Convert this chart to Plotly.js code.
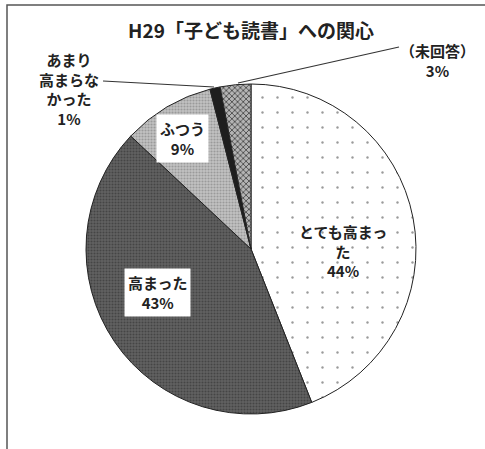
<!DOCTYPE html>
<html>
<head>
<meta charset="utf-8">
<script src="https://cdn.plot.ly/plotly-3.0.1.min.js"></script>
<style>
html,body{margin:0;padding:0;background:#fff;}
#chart{width:485px;height:449px;}
</style>
</head>
<body>
<div id="chart"></div>
<script>
// ---- data ----
const categories = ['とても高まった', '高まった', 'ふつう', 'あまり高まらなかった', '（未回答）'];
const values = [44, 43, 9, 1, 3];
const labelLines = [['とても高まっ', 'た'], ['高まった'], ['ふつう'], ['あまり', '高まらな', 'かった'], ['（未回答）']];
const chartTitle = 'H29「子ども読書」への関心';

// ---- styles (not data) ----
const W = 485, H = 449;
const px = x => x / W;
const py = y => 1 - y / H;
const sliceColors = ['#ffffff', '#5e5e5e', '#b8b8b8', '#1e1e1e', '#9a9a9a'];
const patterns = [
  {shape: '.', fgcolor: '#9a9a9a', bgcolor: '#ffffff', size: 15, solidity: 0.02},
  {shape: '.', fgcolor: '#454545', bgcolor: '#626262', size: 3, solidity: 0.4},
  {shape: '.', fgcolor: '#9a9a9a', bgcolor: '#c2c2c2', size: 3, solidity: 0.4},
  {shape: '', fgcolor: '#1e1e1e', bgcolor: '#1e1e1e', size: 4, solidity: 0.3},
  {shape: 'x', fgcolor: '#3a3a3a', bgcolor: '#b4b4b4', size: 4, solidity: 0.35}
];
// label placement (pixel centers) and whether a white box is drawn
const labelPos = [[343, 251], [157, 292], [182, 138], [69, 89], [437, 60]];
const labelBox = [false, true, true, false, false];
const leaders = [null, null, null, [[103, 81], [214, 87]], [[399, 47], [238, 83]]];

const fontFam = '"Noto Sans CJK JP", "Noto Sans", sans-serif';

const annotations = categories.map((c, i) => ({
  xref: 'paper', yref: 'paper',
  x: px(labelPos[i][0]), y: py(labelPos[i][1]),
  xanchor: 'center', yanchor: 'middle',
  text: labelLines[i].concat([values[i] + '%']).join('<br>'),
  showarrow: false,
  align: 'center',
  font: {family: fontFam, size: 15, color: '#222', weight: 'bold'},
  bgcolor: labelBox[i] ? '#ffffff' : 'rgba(0,0,0,0)',
  borderpad: 3
}));

const shapes = [
  {type: 'path', xref: 'paper', yref: 'paper',
   path: `M ${px(7)} ${py(449)} L ${px(7)} ${py(5)} L ${px(485)} ${py(5)}`,
   line: {color: '#555', width: 1.5}}
];
leaders.forEach(l => {
  if (!l) return;
  shapes.push({type: 'line', xref: 'paper', yref: 'paper',
    x0: px(l[0][0]), y0: py(l[0][1]), x1: px(l[1][0]), y1: py(l[1][1]),
    line: {color: '#333', width: 1.2}});
});

const trace = {
  type: 'pie',
  labels: categories,
  values: values,
  sort: false,
  direction: 'clockwise',
  rotation: 0,
  textinfo: 'none',
  hoverinfo: 'none',
  showlegend: false,
  domain: {x: [px(86), px(416)], y: [py(414), py(84)]},
  marker: {
    colors: sliceColors,
    line: {color: '#222', width: 1},
    pattern: {
      shape: patterns.map(p => p.shape),
      fgcolor: patterns.map(p => p.fgcolor),
      bgcolor: patterns.map(p => p.bgcolor),
      size: patterns.map(p => p.size),
      solidity: patterns.map(p => p.solidity),
      fillmode: 'replace'
    }
  }
};

const layout = {
  width: W, height: H,
  margin: {l: 0, r: 0, t: 0, b: 0},
  paper_bgcolor: '#fff',
  title: {
    text: chartTitle,
    x: px(251), y: py(31), xanchor: 'center', yanchor: 'middle',
    xref: 'paper', yref: 'paper',
    font: {family: fontFam, size: 19, color: '#222', weight: 'bold'}
  },
  annotations: annotations,
  shapes: shapes
};

Plotly.newPlot('chart', [trace], layout, {displayModeBar: false, staticPlot: true});
</script>
</body>
</html>
